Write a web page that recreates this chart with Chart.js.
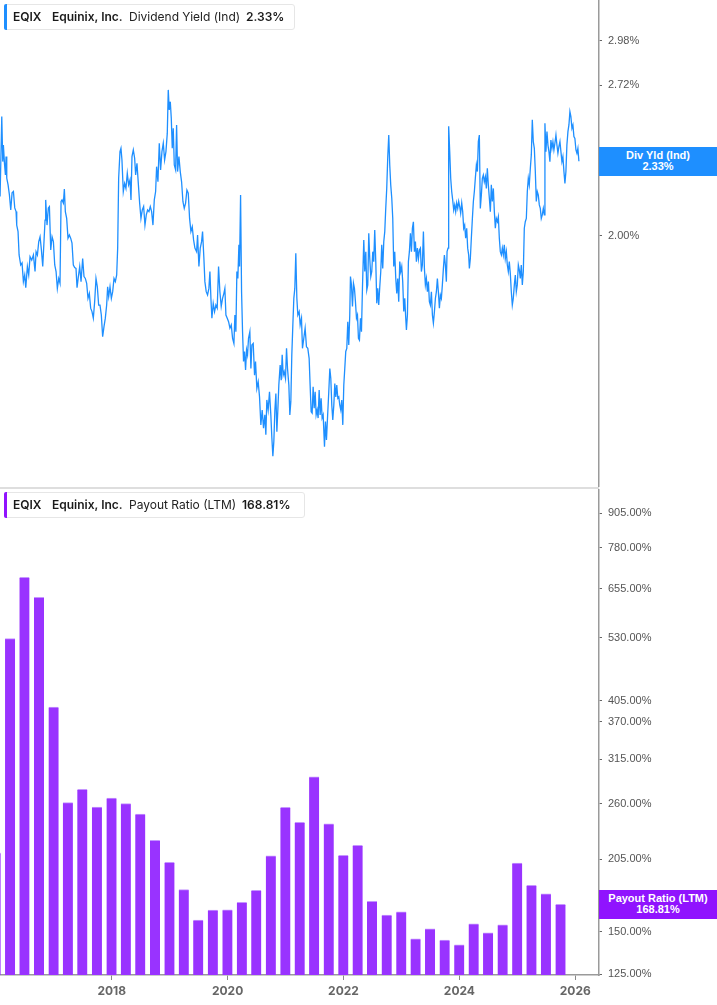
<!DOCTYPE html>
<html><head><meta charset="utf-8">
<script src="https://cdn.jsdelivr.net/npm/chart.js@4.4.1/dist/chart.umd.min.js"></script>
<style>
html,body{margin:0;padding:0;background:#fff;width:717px;height:1005px;overflow:hidden;font-family:Inter,"Liberation Sans",sans-serif;}
#top{position:absolute;left:0;top:0;width:717px;height:487px;}
#bot{position:absolute;left:0;top:489px;width:717px;height:516px;}
#divider{position:absolute;left:0;top:487px;width:599px;height:2px;background:#dedede;}
.legend{position:absolute;left:4px;height:24px;border:1px solid #e6e6e6;border-radius:3px;background:#fff;font-size:12px;color:#222;}
.legend .bar{position:absolute;left:-1px;top:-1px;bottom:-1px;width:3px;border-radius:2px 0 0 2px;}
.legend span{position:absolute;top:0;line-height:24px;white-space:nowrap;}
.legend .b{font-weight:600;color:#1a1a1a}
.tag{position:absolute;left:599px;width:118px;height:29px;color:#fff;font:bold 11px "Liberation Sans",Arial,sans-serif;text-align:center;line-height:11px;display:flex;flex-direction:column;justify-content:center;}
</style></head>
<body>
<div id="top"><canvas id="c1"></canvas></div>
<div id="divider"></div>
<div id="bot"><canvas id="c2"></canvas></div>

<div class="legend" style="top:4px;width:289px;">
  <div class="bar" style="background:#1e8fff"></div>
  <span class="b" style="left:8px">EQIX</span>
  <span class="b" style="left:47px">Equinix, Inc.</span>
  <span style="left:124px">Dividend Yield (Ind)</span>
  <span class="b" style="left:241px">2.33%</span>
</div>
<div class="legend" style="top:492px;width:299px;">
  <div class="bar" style="background:#9013fe"></div>
  <span class="b" style="left:8px">EQIX</span>
  <span class="b" style="left:47px">Equinix, Inc.</span>
  <span style="left:124px">Payout Ratio (LTM)</span>
  <span class="b" style="left:237px">168.81%</span>
</div>
<div class="tag" id="tag1" style="top:147px;background:#1e8fff"><div>Div Yld (Ind)</div><div>2.33%</div></div>
<div class="tag" id="tag2" style="top:889px;background:#9013fe"><div>Payout Ratio (LTM)</div><div>168.81%</div></div>

<script>
// ---- Dividend Yield (Ind), % (decimal-year dates) ----
const yieldDates = [
2016.074,2016.103,2016.120,2016.131,2016.149,2016.166,2016.177,2016.189,2016.212,2016.235,2016.258,2016.281,2016.304,2016.327,2016.350,2016.361,2016.384,2016.402,2016.430,2016.453,
2016.476,2016.499,2016.517,2016.545,2016.568,2016.591,2016.620,2016.649,2016.677,2016.695,2016.718,2016.741,2016.764,2016.787,2016.810,2016.833,2016.850,2016.861,2016.884,2016.907,
2016.925,2016.948,2016.971,2016.994,2017.017,2017.040,2017.062,2017.086,2017.108,2017.126,2017.143,2017.166,2017.183,2017.200,2017.223,2017.246,2017.269,2017.292,2017.315,2017.338,
2017.361,2017.384,2017.402,2017.425,2017.448,2017.471,2017.499,2017.522,2017.545,2017.568,2017.591,2017.614,2017.637,2017.660,2017.683,2017.706,2017.729,2017.752,2017.775,2017.798,
2017.821,2017.844,2017.867,2017.890,2017.913,2017.930,2017.948,2017.971,2017.994,2018.017,2018.040,2018.063,2018.086,2018.103,2018.120,2018.143,2018.160,2018.177,2018.200,2018.223,
2018.246,2018.269,2018.292,2018.315,2018.333,2018.350,2018.373,2018.396,2018.413,2018.436,2018.459,2018.482,2018.505,2018.528,2018.551,2018.574,2018.597,2018.620,2018.643,2018.666,
2018.689,2018.712,2018.735,2018.758,2018.775,2018.798,2018.821,2018.844,2018.867,2018.890,2018.913,2018.936,2018.959,2018.976,2018.993,2019.011,2019.028,2019.045,2019.062,2019.080,
2019.103,2019.120,2019.137,2019.160,2019.183,2019.206,2019.229,2019.252,2019.275,2019.298,2019.321,2019.344,2019.367,2019.390,2019.413,2019.436,2019.465,2019.482,2019.505,2019.528,
2019.551,2019.568,2019.591,2019.608,2019.631,2019.654,2019.677,2019.695,2019.712,2019.729,2019.752,2019.775,2019.798,2019.821,2019.844,2019.867,2019.890,2019.913,2019.936,2019.953,
2019.971,2019.994,2020.017,2020.040,2020.063,2020.086,2020.109,2020.126,2020.143,2020.160,2020.177,2020.195,2020.206,2020.224,2020.241,2020.258,2020.275,2020.292,2020.310,2020.327,
2020.344,2020.361,2020.384,2020.402,2020.419,2020.442,2020.465,2020.482,2020.505,2020.528,2020.551,2020.574,2020.597,2020.620,2020.643,2020.660,2020.677,2020.700,2020.723,2020.746,
2020.764,2020.781,2020.798,2020.816,2020.833,2020.850,2020.867,2020.884,2020.907,2020.925,2020.942,2020.959,2020.976,2020.999,2021.017,2021.034,2021.057,2021.074,2021.091,2021.108,
2021.126,2021.143,2021.160,2021.177,2021.195,2021.212,2021.235,2021.252,2021.275,2021.292,2021.315,2021.338,2021.361,2021.384,2021.407,2021.424,2021.442,2021.459,2021.476,2021.494,
2021.511,2021.528,2021.545,2021.562,2021.580,2021.597,2021.614,2021.631,2021.649,2021.672,2021.689,2021.706,2021.724,2021.746,2021.764,2021.781,2021.798,2021.815,2021.833,2021.850,
2021.867,2021.884,2021.902,2021.919,2021.936,2021.953,2021.970,2021.988,2022.005,2022.022,2022.039,2022.057,2022.074,2022.091,2022.108,2022.120,2022.137,2022.155,2022.172,2022.189,
2022.206,2022.224,2022.241,2022.258,2022.275,2022.293,2022.310,2022.327,2022.350,2022.367,2022.385,2022.402,2022.419,2022.436,2022.453,2022.471,2022.488,2022.505,2022.522,2022.539,
2022.557,2022.574,2022.591,2022.608,2022.626,2022.643,2022.660,2022.677,2022.695,2022.712,2022.729,2022.746,2022.764,2022.781,2022.798,2022.815,2022.833,2022.850,2022.867,2022.884,
2022.902,2022.919,2022.936,2022.953,2022.971,2022.988,2023.005,2023.022,2023.040,2023.057,2023.074,2023.086,2023.103,2023.120,2023.137,2023.155,2023.172,2023.189,2023.206,2023.224,
2023.241,2023.258,2023.275,2023.293,2023.310,2023.327,2023.344,2023.361,2023.379,2023.396,2023.413,2023.430,2023.448,2023.465,2023.482,2023.499,2023.517,2023.534,2023.551,2023.569,
2023.586,2023.603,2023.620,2023.637,2023.655,2023.672,2023.689,2023.706,2023.724,2023.741,2023.758,2023.775,2023.787,2023.804,2023.815,2023.833,2023.850,2023.867,2023.884,2023.902,
2023.919,2023.936,2023.953,2023.971,2023.988,2024.005,2024.022,2024.040,2024.057,2024.074,2024.091,2024.108,2024.126,2024.143,2024.160,2024.172,2024.189,2024.206,2024.224,2024.241,
2024.258,2024.275,2024.293,2024.310,2024.327,2024.344,2024.361,2024.379,2024.396,2024.413,2024.430,2024.448,2024.465,2024.482,2024.499,2024.517,2024.534,2024.551,2024.568,2024.586,
2024.603,2024.620,2024.637,2024.655,2024.672,2024.689,2024.706,2024.724,2024.741,2024.758,2024.775,2024.792,2024.810,2024.827,2024.844,2024.861,2024.878,2024.896,2024.913,2024.930,
2024.948,2024.965,2024.982,2024.999,2025.017,2025.034,2025.051,2025.068,2025.086,2025.103,2025.120,2025.137,2025.155,2025.172,2025.189,2025.206,2025.224,2025.241,2025.258,2025.275,
2025.293,2025.310,2025.327,2025.344,2025.361,2025.379,2025.396,2025.413,2025.430,2025.448,2025.465,2025.476,2025.493,2025.511,2025.528,2025.545,2025.562,2025.579,2025.597,2025.614,
2025.631,2025.648,2025.666,2025.683,2025.700,2025.717,2025.735,2025.752,2025.769,2025.786,2025.804,2025.821,2025.838,2025.855,2025.873,2025.890,2025.907,2025.924,2025.942,2025.959,2025.976,2025.993,2026.011,2026.028,2026.045,2026.062
];
const yieldValues = [
2.168,2.552,2.328,2.408,2.322,2.265,2.352,2.251,2.220,2.175,2.109,2.184,2.190,2.118,2.102,2.045,2.018,1.924,1.885,1.893,
1.822,1.847,1.800,1.879,1.847,1.917,1.904,1.924,1.860,1.937,1.924,1.977,1.997,1.944,1.879,1.984,2.066,2.153,2.045,2.118,
2.124,1.944,1.997,1.977,1.885,1.860,1.797,1.834,1.816,2.146,2.153,2.139,2.201,2.102,2.073,1.991,2.004,1.991,1.971,1.885,
1.875,1.872,1.800,1.841,1.879,1.822,1.910,1.841,1.834,1.816,1.761,1.779,1.726,1.714,1.691,1.749,1.834,1.803,1.737,1.737,
1.702,1.628,1.662,1.691,1.737,1.803,1.767,1.803,1.761,1.785,1.834,1.822,1.847,1.951,2.250,2.376,2.392,2.336,2.190,2.227,
2.204,2.273,2.220,2.242,2.153,2.352,2.384,2.344,2.265,2.320,2.227,2.139,2.073,2.109,2.124,2.045,2.088,2.109,2.102,2.124,
2.102,2.045,2.153,2.190,2.304,2.234,2.417,2.289,2.376,2.417,2.336,2.376,2.466,2.695,2.587,2.631,2.544,2.392,2.492,2.312,
2.289,2.509,2.281,2.352,2.281,2.234,2.146,2.116,2.139,2.197,2.183,2.073,2.018,2.038,1.984,1.951,1.937,2.004,1.879,1.951,
1.977,2.018,1.910,1.822,1.785,1.773,1.797,1.860,1.761,1.691,1.743,1.714,1.737,1.726,1.879,1.785,1.732,1.761,1.779,1.797,
1.702,1.691,1.679,1.657,1.668,1.623,1.606,1.702,1.645,1.860,1.834,1.964,1.879,2.175,1.785,1.645,1.548,1.580,1.521,1.585,
1.569,1.623,1.645,1.526,1.601,1.606,1.505,1.548,1.465,1.485,1.440,1.360,1.402,1.351,1.388,1.333,1.431,1.402,1.455,1.388,
1.324,1.276,1.315,1.402,1.450,1.341,1.402,1.475,1.537,1.490,1.569,1.505,1.516,1.495,1.590,1.526,1.475,1.388,1.426,1.569,
1.668,1.761,1.797,1.931,1.761,1.702,1.714,1.668,1.691,1.590,1.623,1.657,1.595,1.590,1.558,1.475,1.397,1.393,1.470,1.407,
1.455,1.388,1.402,1.379,1.460,1.388,1.436,1.379,1.388,1.301,1.369,1.319,1.379,1.455,1.526,1.495,1.416,1.374,1.416,1.480,
1.440,1.475,1.436,1.440,1.416,1.402,1.431,1.360,1.475,1.526,1.580,1.590,1.679,1.601,1.702,1.841,1.810,1.732,1.816,1.797,
1.749,1.691,1.702,1.623,1.617,1.691,1.645,1.797,1.984,1.860,1.937,1.791,1.810,2.011,1.910,1.841,1.860,1.937,1.898,2.025,
1.898,1.743,1.797,1.737,1.803,1.860,1.964,1.872,1.977,2.018,2.116,2.204,2.352,2.458,2.312,2.220,2.160,2.073,1.879,1.937,
1.834,1.779,1.834,1.749,1.898,1.860,1.879,1.822,1.714,1.761,1.691,1.651,1.702,1.898,1.937,2.011,1.937,2.032,2.059,1.937,
1.977,1.898,1.951,1.910,1.944,1.951,1.860,1.885,2.018,1.872,1.810,1.834,1.785,1.822,1.749,1.737,1.785,1.702,1.674,1.714,
1.761,1.785,1.834,1.785,1.726,1.773,1.761,1.810,1.872,1.924,1.885,1.822,1.937,1.951,2.502,2.376,2.250,2.190,2.153,2.109,
2.131,2.102,2.139,2.116,2.146,2.124,2.095,2.139,2.102,2.032,2.045,1.991,2.032,1.951,1.924,1.872,1.910,1.991,2.073,2.146,
2.190,2.250,2.312,2.281,2.425,2.458,2.116,2.175,2.250,2.265,2.234,2.257,2.204,2.297,2.220,2.160,2.102,2.220,2.146,2.204,
2.102,2.032,2.073,2.059,2.080,1.991,1.937,1.924,1.951,1.924,1.964,1.910,1.937,1.885,1.860,1.898,1.854,1.785,1.737,1.761,
1.810,1.847,1.785,1.810,1.885,1.866,1.834,1.885,1.810,1.860,2.032,2.059,2.073,2.190,2.250,2.220,2.297,2.360,2.535,2.425,
2.392,2.281,2.146,2.190,2.175,2.131,2.116,2.073,2.088,2.116,2.088,2.518,2.376,2.475,2.408,2.376,2.328,2.433,2.392,2.425,
2.384,2.417,2.458,2.408,2.368,2.400,2.425,2.376,2.328,2.352,2.281,2.227,2.281,2.408,2.475,2.509,2.578,2.552,2.492,2.509,2.450,2.441,2.384,2.368,2.392,2.330
];

// ---- Payout Ratio (LTM), % (quarter ends) ----
const payoutDates = [
"2015-12-31","2016-03-31","2016-06-30","2016-09-30","2016-12-31",
"2017-03-31","2017-06-30","2017-09-30","2017-12-31",
"2018-03-31","2018-06-30","2018-09-30","2018-12-31",
"2019-03-31","2019-06-30","2019-09-30","2019-12-31",
"2020-03-31","2020-06-30","2020-09-30","2020-12-31",
"2021-03-31","2021-06-30","2021-09-30","2021-12-31",
"2022-03-31","2022-06-30","2022-09-30","2022-12-31",
"2023-03-31","2023-06-30","2023-09-30","2023-12-31",
"2024-03-31","2024-06-30","2024-09-30","2024-12-31",
"2025-03-31","2025-06-30","2025-09-30"
];
const payoutValues = [
210.6,528.3,687.5,631.0,394.0,
261.3,276.8,256.5,266.6,
260.2,248.9,222.4,202.3,
179.9,157.9,164.7,164.9,
170.4,179.4,207.9,256.2,
240.2,291.8,238.5,208.5,
217.6,171.1,161.2,163.5,
145.6,152.0,144.8,141.9,
155.3,149.4,154.6,201.5,
183.3,176.6,168.81
];

// ---- tick labels ----
const yieldTicks = [2.00, 2.72, 2.98];
const payoutTicks = [125, 150, 205, 260, 315, 370, 405, 530, 655, 780, 905];
const xTickYears = [2018, 2020, 2022, 2024, 2026];

// ---- axis ranges ----
const xMin = 2016.0725, xMax = 2026.409;
const yieldMin = 1.198, yieldMax = 3.238;
const payoutMin = 124.7, payoutMax = 1004.3;

function decYear(s) {
  const [y, m, d] = s.split('-').map(Number);
  const t = Date.UTC(y, m - 1, d), a = Date.UTC(y, 0, 1), b = Date.UTC(y + 1, 0, 1);
  return y + (t - a) / (b - a);
}

const axisBorder = { display: true, color: '#9a9a9a', width: 1.5 };
const yTickFont = { family: 'Liberation Sans', size: 11 };

function tagPlugin(tagId, canvasTop, lastValue) {
  return {
    id: 'tag_' + tagId,
    afterRender(chart) {
      const y = chart.scales.y.getPixelForValue(lastValue);
      document.getElementById(tagId).style.top = (canvasTop + y - 14.5) + 'px';
    }
  };
}

new Chart(document.getElementById('c1'), {
  type: 'line',
  data: {
    datasets: [{
      data: yieldDates.map((t, i) => ({ x: t, y: yieldValues[i] })),
      borderColor: '#1e8fff', borderWidth: 1.3, pointRadius: 0, tension: 0, fill: false
    }]
  },
  plugins: [tagPlugin('tag1', 0, yieldValues[yieldValues.length - 1])],
  options: {
    responsive: true, maintainAspectRatio: false, animation: false, events: [],
    layout: { padding: 0, autoPadding: false },
    plugins: { legend: { display: false }, tooltip: { enabled: false } },
    scales: {
      x: { type: 'linear', min: xMin, max: xMax, display: false },
      y: {
        type: 'logarithmic', position: 'right', min: yieldMin, max: yieldMax,
        afterBuildTicks: s => { s.ticks = yieldTicks.map(v => ({ value: v })); },
        afterFit: s => { s.width = 118; s.paddingTop = 0; s.paddingBottom = 0; },
        ticks: { callback: v => Number(v).toFixed(2) + '%', color: '#555', font: yTickFont, padding: 6, autoSkip: false },
        grid: { drawOnChartArea: false, drawTicks: true, tickLength: 3, tickColor: '#666' },
        border: axisBorder
      }
    }
  }
});

new Chart(document.getElementById('c2'), {
  type: 'bar',
  data: {
    datasets: [{
      data: payoutDates.map((d, i) => ({ x: decYear(d), y: payoutValues[i] })),
      backgroundColor: '#9933ff',
      borderColor: '#c596ff',
      borderWidth: { top: 1, left: 0, right: 0, bottom: 0 },
      borderSkipped: 'bottom',
      barThickness: 10
    }]
  },
  plugins: [tagPlugin('tag2', 489, payoutValues[payoutValues.length - 1])],
  options: {
    responsive: true, maintainAspectRatio: false, animation: false, events: [],
    layout: { padding: 0, autoPadding: false },
    plugins: { legend: { display: false }, tooltip: { enabled: false } },
    scales: {
      x: {
        type: 'linear', min: xMin, max: xMax, offset: false,
        afterBuildTicks: s => { s.ticks = xTickYears.map(v => ({ value: v })); },
        afterFit: s => { s.height = 30; s.paddingLeft = 0; s.paddingRight = 0; },
        ticks: { callback: v => String(v), color: '#666', font: { family: 'Inter', size: 12, weight: 'bold' }, padding: 4, autoSkip: false, maxRotation: 0 },
        grid: { drawOnChartArea: false, drawTicks: true, tickLength: 5, tickColor: '#888', offset: false },
        border: axisBorder
      },
      y: {
        type: 'logarithmic', position: 'right', min: payoutMin, max: payoutMax, beginAtZero: false,
        afterBuildTicks: s => { s.ticks = payoutTicks.map(v => ({ value: v })); },
        afterFit: s => { s.width = 118; s.paddingTop = 0; s.paddingBottom = 0; },
        ticks: { callback: v => Number(v).toFixed(2) + '%', color: '#555', font: yTickFont, padding: 6, autoSkip: false },
        grid: { drawOnChartArea: false, drawTicks: true, tickLength: 3, tickColor: '#666' },
        border: axisBorder
      }
    }
  }
});
</script>
</body></html>
